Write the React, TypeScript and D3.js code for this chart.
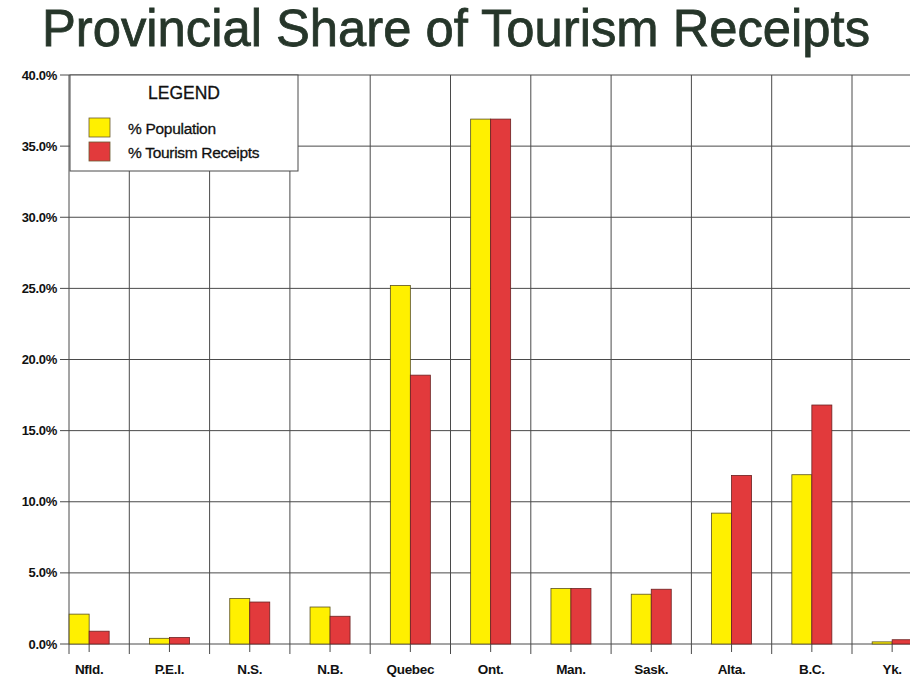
import React from "react";
import * as d3 from "d3";

const categories = ["Nfld.", "P.E.I.", "N.S.", "N.B.", "Quebec", "Ont.", "Man.", "Sask.", "Alta.", "B.C.", "Yk."];
const populationShare = [2.1, 0.4, 3.2, 2.6, 25.2, 36.9, 3.9, 3.5, 9.2, 11.9, 0.15];
const tourismShare = [0.9, 0.45, 2.95, 1.95, 18.9, 36.9, 3.9, 3.85, 11.85, 16.8, 0.3];
const yTicks = [0, 5, 10, 15, 20, 25, 30, 35, 40];
const seriesNames = ["% Population", "% Tourism Receipts"];
const seriesColors = ["#fff000", "#e23a3c"];

export default function App() {
  const W = 910, H = 679;
  const axisX = 69;
  const x = d3.scaleBand<string>().domain(categories).range([49, 49 + 80.3 * 11]).padding(0);
  const y = d3.scaleLinear().domain([0, 40]).range([644, 75]);
  const bw = 20;
  const font = "'Liberation Sans', Arial, sans-serif";
  const grid = "#4a4a4a";

  return (
    <svg width={W} height={H} style={{ position: "absolute", left: 0, top: 0, background: "#fff" }}>
      <text x={456} y={46} textAnchor="middle" fontFamily={font} fontSize={52} fill="#26362a" stroke="#26362a" strokeWidth={0.8}
        textLength={828} lengthAdjust="spacingAndGlyphs">
        Provincial Share of Tourism Receipts
      </text>
      {/* horizontal gridlines */}
      {yTicks.map((t) => (
        <g key={"y" + t}>
          <line x1={60} x2={W} y1={y(t)} y2={y(t)} stroke={grid} strokeWidth={1} />
          <text x={57} y={y(t) + 4.5} textAnchor="end" fontFamily={font} fontSize={13} fontWeight="bold" fill="#111" style={{ letterSpacing: "-0.3px" }}>
            {t.toFixed(1) + "%"}
          </text>
        </g>
      ))}
      {/* y axis */}
      <line x1={axisX} x2={axisX} y1={y(40)} y2={y(0) + 10} stroke={grid} strokeWidth={1} />
      {/* vertical gridlines at category boundaries */}
      {categories.map((c) => {
        const gx = (x(c) as number) + x.bandwidth();
        return <line key={"g" + c} x1={gx} x2={gx} y1={y(40)} y2={y(0) + 10} stroke={grid} strokeWidth={1} />;
      })}
      {/* bars */}
      {categories.map((c, i) => {
        const cx = (x(c) as number) + x.bandwidth() / 2;
        return (
          <g key={"b" + c}>
            <rect x={cx - bw} y={y(populationShare[i])} width={bw} height={y(0) - y(populationShare[i])} fill={seriesColors[0]} stroke="#5a5020" strokeWidth={0.8} />
            <rect x={cx} y={y(tourismShare[i])} width={bw} height={y(0) - y(tourismShare[i])} fill={seriesColors[1]} stroke="#6a2020" strokeWidth={0.8} />
            <line x1={cx} x2={cx} y1={y(0)} y2={y(0) + 8} stroke={grid} strokeWidth={1} />
            <text x={cx} y={674} textAnchor="middle" fontFamily={font} fontSize={13.5} fontWeight="bold" fill="#111" style={{ letterSpacing: "-0.3px" }}>
              {c}
            </text>
          </g>
        );
      })}
      {/* legend */}
      <g>
        <rect x={70} y={75} width={228} height={96} fill="#fff" stroke={grid} strokeWidth={1} />
        <text x={184} y={99} textAnchor="middle" fontFamily={font} fontSize={17.5} fill="#111" stroke="#111" strokeWidth={0.3}>LEGEND</text>
        {seriesNames.map((s, i) => (
          <g key={s}>
            <rect x={89} y={118 + i * 24} width={21} height={19} fill={seriesColors[i]} stroke="#6a5a30" strokeWidth={0.8} />
            <text x={128} y={134 + i * 24} fontFamily={font} fontSize={15.5} fill="#111" stroke="#111" strokeWidth={0.3} style={{ letterSpacing: "-0.3px" }}>{s}</text>
          </g>
        ))}
      </g>
    </svg>
  );
}
